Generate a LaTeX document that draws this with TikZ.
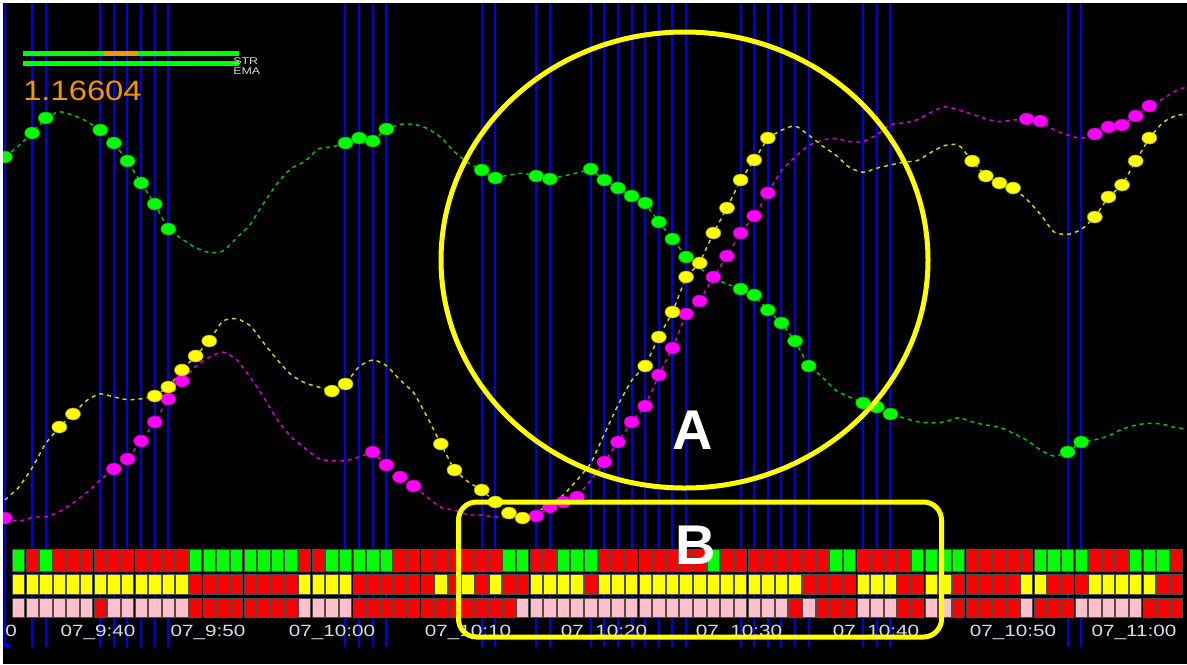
\documentclass[tikz,border=0pt]{standalone}
\usepackage{fontspec}
\setmainfont{Liberation Sans}
\newfontfamily\axisfont[FakeStretch=1.27]{Liberation Sans}
\newfontfamily\pricefont[FakeStretch=1.17]{Liberation Sans}
\definecolor{barG}{RGB}{0,255,0}
\definecolor{barR}{RGB}{255,0,0}
\definecolor{barY}{RGB}{255,255,0}
\definecolor{barP}{RGB}{255,192,203}
\definecolor{chartblue}{RGB}{0,0,235}
\definecolor{curveG}{RGB}{0,200,0}
\definecolor{curveY}{RGB}{215,215,0}
\definecolor{curveM}{RGB}{215,0,215}
\definecolor{dotM}{RGB}{255,0,255}
\definecolor{labelgray}{RGB}{215,220,235}
\definecolor{legorange}{RGB}{245,150,0}
\begin{document}
\begin{tikzpicture}[x=0.75pt,y=-0.75pt,
  bluebar/.style={draw=chartblue,line width=1.5pt},
  gcurve/.style={draw=curveG,line width=1.1pt,dash pattern=on 3pt off 3pt,rounded corners=3pt},
  ycurve/.style={draw=curveY,line width=1.1pt,dash pattern=on 3pt off 3pt,rounded corners=3pt},
  mcurve/.style={draw=curveM,line width=1.1pt,dash pattern=on 3pt off 3pt,rounded corners=3pt},
  gdot/.style={fill=barG,draw=barG!65!black,line width=0.4pt},
  ydot/.style={fill=barY,draw=barY!65!black,line width=0.4pt},
  mdot/.style={fill=dotM,draw=dotM!65!black,line width=0.4pt},
  cell/.style={draw=black!70,line width=0.6pt},
  tlabel/.style={text=labelgray,font=\axisfont\fontsize{12.2}{14}\selectfont,inner sep=0,anchor=base},
  legtext/.style={text=labelgray,font=\axisfont\fontsize{7.3}{8}\selectfont,inner sep=0,anchor=base west},
  hilite/.style={draw=barY,line width=3.75pt},
  bigletter/.style={text=white,font=\fontsize{42}{48}\selectfont\bfseries,inner sep=0}]
\useasboundingbox (0,0) rectangle (1187,664);

% background
\fill[white] (0,0) rectangle (1187,664);
\fill[black] (3,3) rectangle (1187,664);

\begin{scope}
\clip (3,3) rectangle (1187,664);

% bar lines
\foreach \i in {-1,1,2,6,7,8,9,10,11,24,25,26,27,34,35,38,39,42,43,44,45,46,47,48,49,53,54,55,56,57,58,62,63,64,77,78}
  \draw[bluebar] ({18.5+13.624*\i},3) -- ({18.5+13.624*\i},647);
\fill[chartblue] (4,641) -- (12,647) -- (4,647) -- cycle;

% curves
\foreach \y [count=\i from -1] in {518,522,517,517,512,503,493,480,469,459,441,422,399,381,366,357,351,359,377,397,420,437,448,459,461,461,457,452,465,477,486,497,508,510,515,515,517,518,518,516,507,502,497,480,462,442,422,406,375,348,314,301,277,256,233,216,193,170,157,145,140,138,142,142,135,124,123,120,112,106,110,114,119,122,120,119,121,130,135,139,134,127,125,116,106,99,90,86}
  \coordinate (m\i) at ({18.5+13.624*\i},\y);
\foreach \y [count=\i from -1] in {157,146,133,118,111,115,121,130,143,161,183,204,229,239,248,253,252,238,225,203,183,168,162,148,147,143,138,141,129,124,124,128,137,152,163,170,178,175,173,176,179,176,173,169,180,188,196,203,222,239,257,268,278,284,289,295,310,323,341,366,377,391,397,403,407,414,418,422,423,422,417,422,425,427,433,440,450,457,452,442,440,436,429,425,423,424,428,429}
  \coordinate (g\i) at ({18.5+13.624*\i},\y);
\foreach \y [count=\i from -1] in {500,488,468,443,427,414,400,393,397,400,399,396,387,370,356,341,320,318,325,343,360,375,383,387,391,384,366,359,365,380,392,417,444,470,482,490,502,513,518,512,505,495,480,464,434,405,380,366,337,312,277,263,233,208,180,160,138,130,125,135,146,155,168,173,168,165,162,161,152,145,144,161,176,183,188,199,214,233,235,230,217,197,185,161,138,122,115,114}
  \coordinate (y\i) at ({18.5+13.624*\i},\y);

\draw[mcurve] (m-1) \foreach \i in {0,...,86} { -- (m\i) };
\draw[gcurve] (g-1) \foreach \i in {0,...,86} { -- (g\i) };
\draw[ycurve] (y-1) \foreach \i in {0,...,86} { -- (y\i) };

% dots
\foreach \i in {-1,7,8,9,10,11,12,26,27,28,29,38,39,40,41,43,44,45,46,47,48,49,50,51,52,53,54,55,74,75,79,80,81,82,83}
  \path[mdot] (m\i) ellipse [x radius=7.5,y radius=6];
\foreach \i in {-1,1,2,6,7,8,9,10,11,24,25,26,27,34,35,38,39,42,43,44,45,46,47,48,49,53,54,55,56,57,58,62,63,64,77,78}
  \path[gdot] (g\i) ellipse [x radius=7.5,y radius=6];
\foreach \i in {3,4,10,11,12,13,14,23,24,31,32,34,35,36,37,46,47,48,49,50,51,52,53,54,55,70,71,72,73,79,80,81,82,83}
  \path[ydot] (y\i) ellipse [x radius=7.5,y radius=6];

% signal rows
\foreach \c [count=\i from 0] in {G,R,G,R,R,R,R,R,R,R,R,R,R,G,G,G,G,G,G,G,G,R,R,G,G,G,G,G,R,R,R,R,R,R,R,R,G,G,R,R,G,G,G,R,R,R,R,R,R,R,R,G,R,R,R,R,R,R,R,R,G,G,R,R,R,R,G,G,G,G,R,R,R,R,R,G,G,G,G,R,R,R,G,G,G,R}
  \path[cell,fill=bar\c] ({12.3+13.624*\i},549.5) rectangle ++(12.4,22);
\foreach \c [count=\i from 0] in {Y,Y,Y,Y,Y,Y,Y,Y,Y,Y,Y,Y,Y,R,R,R,R,R,R,R,R,Y,Y,Y,Y,R,R,R,R,R,R,Y,R,Y,R,Y,R,R,Y,Y,Y,Y,R,Y,Y,Y,Y,Y,Y,Y,Y,Y,Y,Y,Y,Y,Y,Y,R,R,R,R,Y,Y,Y,R,R,Y,Y,R,R,R,R,R,Y,Y,R,R,R,Y,Y,Y,Y,Y,R,R}
  \path[cell,fill=bar\c] ({12.3+13.624*\i},574.5) rectangle ++(12.4,20);
\foreach \c [count=\i from 0] in {P,P,P,P,P,P,R,P,P,P,P,P,P,R,R,R,R,R,R,R,R,P,P,P,P,R,R,R,R,R,R,R,R,R,R,R,R,P,P,P,P,P,P,P,P,P,P,P,P,P,P,P,P,P,P,P,P,R,P,R,R,R,P,P,P,R,R,P,P,R,R,R,R,R,P,R,R,R,P,P,P,P,P,R,R,R}
  \path[cell,fill=bar\c] ({12.3+13.624*\i},598) rectangle ++(12.4,19);

% time labels
\node[tlabel] (t930) at (11,636.5) {0};
\foreach \x/\t in {98/9:40,208/9:50,332/10:00,468/10:10,604/10:20,739/10:30,876/10:40,1013/10:50,1134/11:00}
  \node[tlabel] (t\x) at (\x,636.5) {07\_\t};
\end{scope}

% legend
\draw[barG,line width=3.75pt] (23,53) -- (239,53);
\draw[legorange,line width=3.75pt] (104,53) -- (138,53);
\draw[barG,line width=3.75pt] (23,63) -- (239,63);
\node[legtext] (str) at (233,64) {STR};
\node[legtext] (ema) at (233,74) {EMA};
\node[text=legorange,font=\pricefont\fontsize{21}{24}\selectfont,inner sep=0,anchor=base west] (price) at (23,100) {1.16604};

% highlights
\draw[hilite] (684.5,260) ellipse [x radius=243.5,y radius=228];
\draw[hilite,rounded corners=13.5pt] (458.5,502) rectangle (941.5,637);
\node[bigletter] (lblA) at (693,430) {A};
\node[bigletter] (lblB) at (696,545) {B};
\end{tikzpicture}
\end{document}
